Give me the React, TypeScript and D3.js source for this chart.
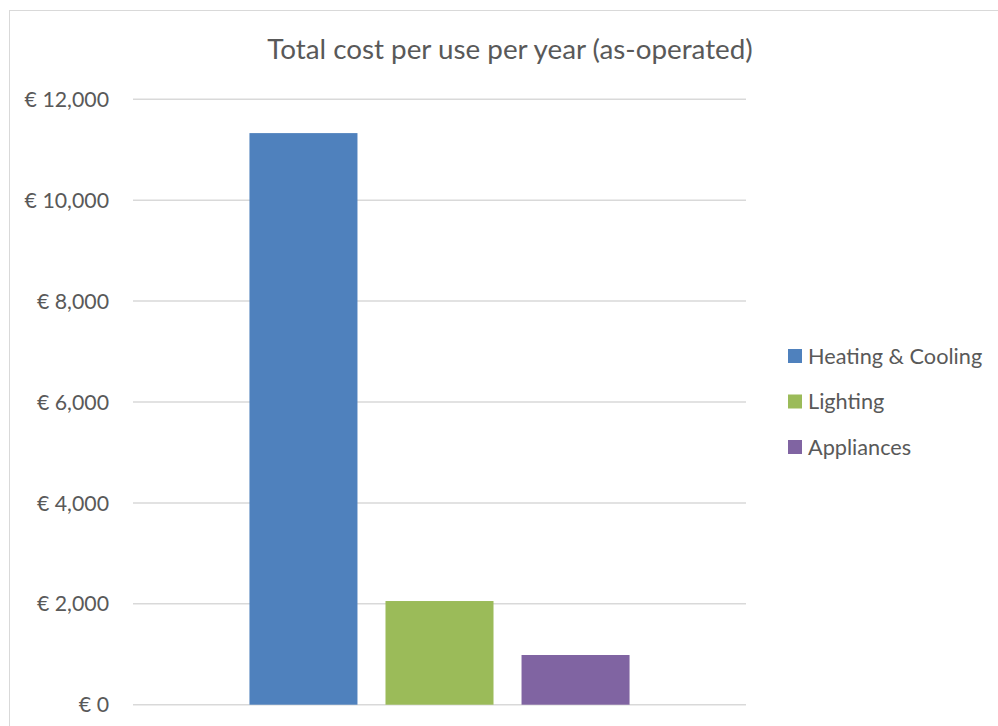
import React from "react";
import * as d3 from "d3";

const title = "Total cost per use per year (as-operated)";
const categories = [""];
const seriesNames = ["Heating & Cooling", "Lighting", "Appliances"];
const seriesValues = [11330, 2055, 985];
const seriesColors = ["#4f81bd", "#9bbb59", "#8064a2"];
const yTicks = [0, 2000, 4000, 6000, 8000, 10000, 12000];

const W = 998;
const H = 726;
const plot = { left: 133, right: 746, top: 99.3, bottom: 704.7 };
const FONT = "Lato, 'Open Sans', sans-serif";
const TEXT = "#595959";

export default function App() {
  const y = d3.scaleLinear().domain([0, 12000]).range([plot.bottom, plot.top]);
  const x0 = d3
    .scaleBand<string>()
    .domain(categories)
    .range([plot.left, plot.right])
    .paddingInner(0)
    .paddingOuter(0.251);
  const x1 = d3
    .scaleBand<string>()
    .domain(seriesNames)
    .range([0, x0.bandwidth()])
    .paddingInner(0.206)
    .paddingOuter(0.103);
  const fmt = (v: number) => "€ " + d3.format(",")(v);

  return (
    <svg
      width={W}
      height={H}
      style={{ position: "absolute", left: 0, top: 0, background: "#fff" }}
      fontFamily={FONT}
    >
      <rect x={9.5} y={10.5} width={1000} height={730} fill="#fff" stroke="#d9d9d9" strokeWidth={1} />
      <text x={510} y={59} textAnchor="middle" fontSize={27.8} fill={TEXT}>
        {title}
      </text>
      {yTicks.map((t) => (
        <g key={t}>
          <line x1={plot.left} x2={plot.right} y1={y(t)} y2={y(t)} stroke="#d9d9d9" strokeWidth={1.5} />
          <text x={109} y={y(t)} dy="0.36em" textAnchor="end" fontSize={21.3} fill={TEXT}>
            {fmt(t)}
          </text>
        </g>
      ))}
      {categories.map((c) => (
        <g key={c} transform={`translate(${x0(c)},0)`}>
          {seriesNames.map((s, i) => (
            <rect
              key={s}
              x={x1(s)}
              y={y(seriesValues[i])}
              width={x1.bandwidth()}
              height={y(0) - y(seriesValues[i])}
              fill={seriesColors[i]}
            />
          ))}
        </g>
      ))}
      {seriesNames.map((s, i) => (
        <g key={s} transform={`translate(788,${356 + i * 45.5})`}>
          <rect x={0} y={-7} width={14} height={14} fill={seriesColors[i]} />
          <text x={20} y={0} dy="0.36em" fontSize={21.7} fill={TEXT}>
            {s}
          </text>
        </g>
      ))}
    </svg>
  );
}
